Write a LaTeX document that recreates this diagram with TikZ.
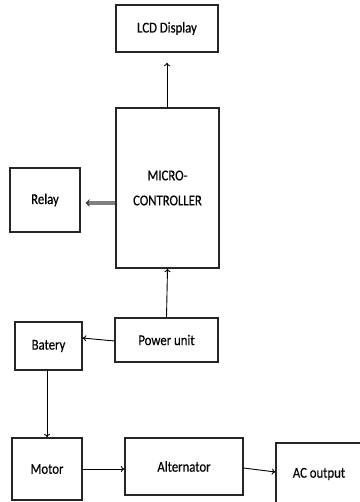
\documentclass[tikz,border=0pt]{standalone}
\usepackage{fontspec}
\setmainfont{Carlito}
\newfontfamily\blkfont[FakeStretch=0.85,FakeBold=0.3]{Carlito}
\usetikzlibrary{arrows.meta}
\begin{document}
\begin{tikzpicture}[x=1pt,y=-1pt,
  blk/.style={draw=black!85,line width=1.3pt,rectangle,inner sep=0pt,align=center,font=\blkfont\fontsize{15}{25}\selectfont},
  conn/.style={line width=0.9pt,-{To[length=3.5pt,width=6pt]}},
  thickconn/.style={line width=3.2pt,draw=black!50,-{Stealth[length=4pt,width=8pt,color=black!75]}}]
\useasboundingbox (0,0) rectangle (359,502);
\fill[white] (0,0) rectangle (359,502);
\node[blk,minimum width=102pt,minimum height=47pt] (lcd) at (167,28.5) {LCD Display};
\node[blk,minimum width=103pt,minimum height=160pt] (micro) at (167.5,188) {MICRO-\\CONTROLLER};
\node[blk,minimum width=70pt,minimum height=64pt] (relay) at (45,200) {Relay};
\node[blk,minimum width=103pt,minimum height=44pt] (power) at (166.5,340) {Power unit};
\node[blk,minimum width=67pt,minimum height=48pt] (batery) at (48.5,346) {Batery};
\node[blk,minimum width=70pt,minimum height=62pt] (motor) at (47,469) {Motor};
\node[blk,minimum width=118pt,minimum height=57pt] (alt) at (184,466.5) {Alternator};
\node[blk,minimum width=86pt,minimum height=62pt] (ac) at (319,474) {AC output};
\draw[conn] (micro.north -| lcd.south) -- ([yshift=-10pt]lcd.south);
\draw[thickconn] ([yshift=-15pt]micro.west) -- ([xshift=5pt,yshift=-3pt]relay.east);
\draw[conn] (power.north) -- (micro.south);
\draw[conn] ([yshift=-1pt]power.west) -- ([yshift=8pt]batery.east);
\draw[conn] (motor.north |- batery.south) -- (motor.north);
\draw[conn] (motor.east) -- (motor.east -| alt.west);
\draw[conn] ([yshift=-1.5pt]alt.east) -- ([yshift=2pt]ac.west);
\end{tikzpicture}
\end{document}
